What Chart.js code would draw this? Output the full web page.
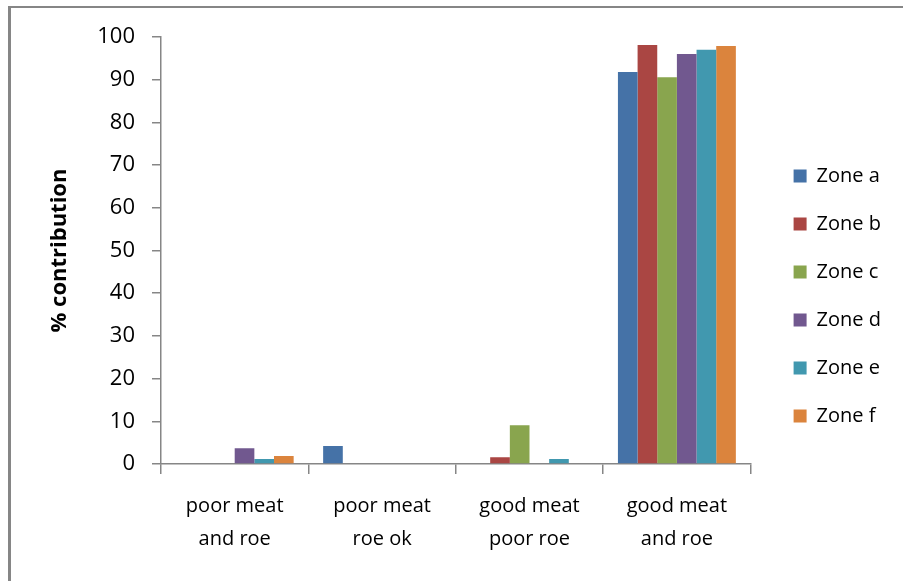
<!DOCTYPE html>
<html>
<head>
<meta charset="utf-8">
<script src="https://cdn.jsdelivr.net/npm/chart.js@4/dist/chart.umd.min.js"></script>
<style>
  html, body { margin: 0; padding: 0; background: #fff; overflow: hidden; }
  #wrap { position: relative; width: 903px; height: 581px; }
  #frame {
    position: absolute; left: 8px; top: 6px; width: 920px; height: 600px;
    border-left: 3px solid #868686; border-top: 2px solid #868686;
    pointer-events: none;
  }
</style>
</head>
<body>
<div id="wrap">
  <canvas id="chart" width="903" height="581"></canvas>
  <div id="frame"></div>
</div>
<script>
// categories (two-line labels)
const categories = [
  ['poor meat', 'and roe'],
  ['poor meat', 'roe ok'],
  ['good meat', 'poor roe'],
  ['good meat', 'and roe']
];

// % contribution per zone
const zoneA = [0, 4.2, 0, 91.8];
const zoneB = [0, 0, 1.6, 98.1];
const zoneC = [0, 0, 9.1, 90.6];
const zoneD = [3.7, 0, 0, 96.0];
const zoneE = [1.2, 0, 1.2, 97.0];
const zoneF = [1.9, 0, 0, 97.9];

const seriesNames = ['Zone a', 'Zone b', 'Zone c', 'Zone d', 'Zone e', 'Zone f'];
const seriesValues = [zoneA, zoneB, zoneC, zoneD, zoneE, zoneF];
const colors = ['#4572A7', '#AA4643', '#89A54E', '#71588F', '#4198AF', '#DB843D'];

const axisGray = '#868686';
Chart.defaults.font.family = '"Open Sans", "Liberation Sans", sans-serif';
Chart.defaults.color = '#000';

const ctx = document.getElementById('chart').getContext('2d');

new Chart(ctx, {
  type: 'bar',
  data: {
    labels: categories,
    datasets: seriesNames.map((name, i) => ({
      label: name,
      data: seriesValues[i],
      backgroundColor: colors[i],
      borderWidth: 0,
      barPercentage: 1,
      categoryPercentage: 0.8
    }))
  },
  options: {
    responsive: false,
    devicePixelRatio: 1,
    animation: false,
    layout: { padding: { left: 0, top: 37, right: 12, bottom: 26 } },
    plugins: {
      tooltip: { enabled: false },
      legend: {
        position: 'right',
        labels: {
          boxWidth: 13,
          boxHeight: 13,
          padding: 28,
          font: { size: 20 },
          color: '#000'
        }
      }
    },
    scales: {
      x: {
        grid: {
          drawOnChartArea: false,
          drawTicks: true,
          tickLength: 10,
          color: axisGray,
          lineWidth: 1.5
        },
        border: { color: axisGray, width: 1.5 },
        ticks: {
          font: { size: 20, lineHeight: 1.65 },
          padding: 16,
          maxRotation: 0,
          autoSkip: false
        },
        afterFit: s => { s.height = 91; }
      },
      y: {
        min: 0,
        max: 100,
        ticks: { stepSize: 10, font: { size: 22 }, padding: 17 },
        grid: {
          drawOnChartArea: false,
          drawTicks: true,
          tickLength: 9,
          color: axisGray,
          lineWidth: 1.5
        },
        border: { color: axisGray, width: 1.5 },
        title: {
          display: true,
          text: '% contribution',
          font: { size: 22, weight: 'bold' },
          padding: { top: 47, bottom: 0 }
        },
        afterFit: s => { s.width = 161; }
      },
      // empty spacer between plot and legend
      gap: {
        type: 'linear',
        position: 'right',
        display: true,
        grid: { display: false },
        border: { display: false },
        ticks: { display: false },
        afterFit: s => { s.width = 15; }
      }
    }
  }
});
</script>
</body>
</html>
